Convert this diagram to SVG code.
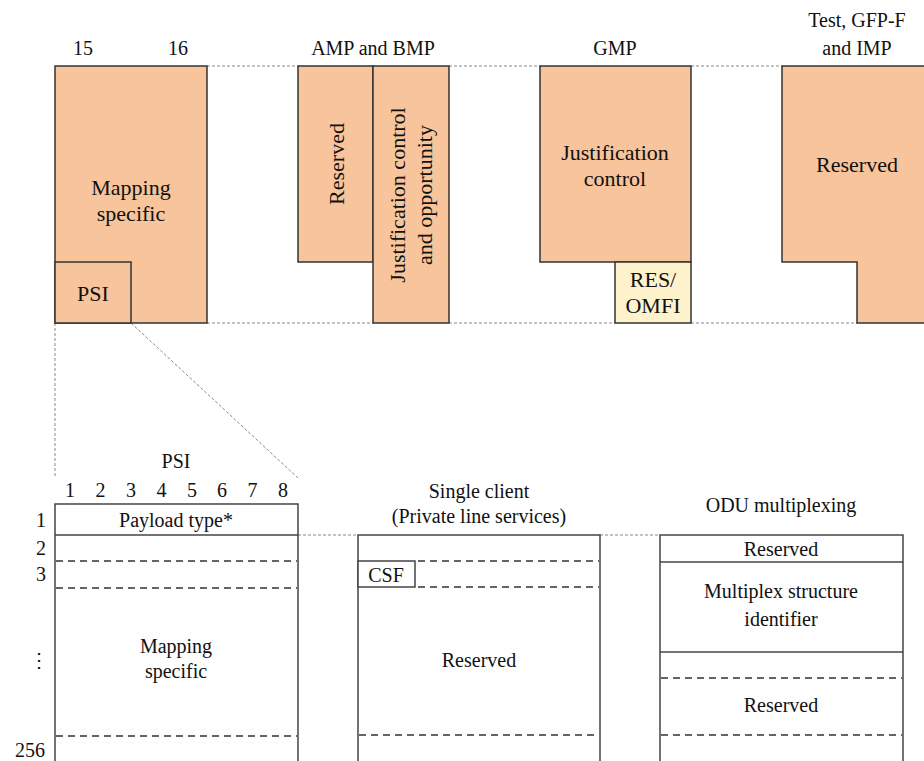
<svg xmlns="http://www.w3.org/2000/svg" width="924" height="761" viewBox="0 0 924 761" font-family="'Liberation Serif', 'Times New Roman', 'DejaVu Serif', serif">
<style>
text{font-family:'Liberation Serif','Times New Roman','DejaVu Serif',serif;fill:#111;}
.t22{font-size:22px;text-anchor:middle;}
.t20{font-size:20px;text-anchor:middle;}
.blk{fill:#f8c49b;stroke:#333;stroke-width:1.5;}
.yel{fill:#fdf2cc;stroke:#333;stroke-width:1.5;}
.wht{fill:#fefefe;stroke:#444;stroke-width:1.5;}
.sep{stroke:#444;stroke-width:1.5;fill:none;}
.dash{stroke:#333;stroke-width:1.3;stroke-dasharray:7,5;fill:none;}
.guide{stroke:#888;stroke-width:1;stroke-dasharray:3,2;fill:none;}
</style>
<rect width="924" height="761" fill="#fff"/>
<g id="connectors">
<line class="guide" x1="207" y1="66" x2="298" y2="66"/>
<line class="guide" x1="449" y1="66" x2="540" y2="66"/>
<line class="guide" x1="691" y1="66" x2="782" y2="66"/>
<line class="guide" x1="207" y1="323" x2="374" y2="323"/>
<line class="guide" x1="449" y1="323" x2="615" y2="323"/>
<line class="guide" x1="691" y1="323" x2="857" y2="323"/>
<line class="guide" x1="55" y1="323" x2="55" y2="478"/>
<line class="guide" x1="131" y1="323" x2="298" y2="478"/>
<line class="guide" x1="298" y1="535" x2="358" y2="535"/>
<line class="guide" x1="600" y1="535" x2="660" y2="535"/>
</g>
<g id="col-1516">
<text class="t20" x="83" y="55">15</text>
<text class="t20" x="178" y="55">16</text>
<rect class="blk" x="55" y="66" width="152" height="257"/>
<text class="t22" x="131" y="195">Mapping</text>
<text class="t22" x="131" y="221">specific</text>
</g>
<g id="psi-top">
<rect class="blk" x="55" y="262" width="76" height="61"/>
<text class="t22" x="93" y="301">PSI</text>
</g>
<g id="amp-bmp">
<text class="t20" x="373" y="55">AMP and BMP</text>
<rect class="blk" x="298" y="66" width="75" height="196"/>
<text class="t22" transform="translate(336,164) rotate(-90)" dominant-baseline="central">Reserved</text>
<rect class="blk" x="373" y="66" width="76" height="257"/>
<text class="t22" transform="translate(397,195) rotate(-90)" dominant-baseline="central">Justification control</text>
<text class="t22" transform="translate(424,195) rotate(-90)" dominant-baseline="central">and opportunity</text>
</g>
<g id="gmp">
<text class="t20" x="615" y="55">GMP</text>
<rect class="blk" x="540" y="66" width="151" height="196"/>
<text class="t22" x="615" y="160">Justification</text>
<text class="t22" x="615" y="186">control</text>
</g>
<g id="res-omfi">
<rect class="yel" x="615" y="262" width="76" height="61"/>
<text class="t22" x="653" y="287">RES/</text>
<text class="t22" x="653" y="313">OMFI</text>
</g>
<g id="test">
<text class="t20" x="857" y="27">Test, GFP-F</text>
<text class="t20" x="857" y="55">and IMP</text>
<path class="blk" d="M930,66 H782 V262 H857 V323 H930"/>
<text class="t22" x="857" y="172">Reserved</text>
</g>
<g id="psi-table">
<text class="t20" x="176" y="468">PSI</text>
<text class="t20" x="70" y="497">1</text>
<text class="t20" x="100.5" y="497">2</text>
<text class="t20" x="131" y="497">3</text>
<text class="t20" x="161.5" y="497">4</text>
<text class="t20" x="192" y="497">5</text>
<text class="t20" x="222" y="497">6</text>
<text class="t20" x="252.5" y="497">7</text>
<text class="t20" x="283" y="497">8</text>
<text class="t20" x="41" y="527">1</text>
<text class="t20" x="41" y="555">2</text>
<text class="t20" x="41" y="581">3</text>
<text class="t20" x="39" y="667">⋮</text>
<text class="t20" x="30" y="757">256</text>
<path class="wht" d="M55,770 V504 H298 V770"/>
<line class="sep" x1="55" y1="535" x2="298" y2="535"/>
<line class="dash" x1="56" y1="561" x2="297" y2="561"/>
<line class="dash" x1="56" y1="588" x2="297" y2="588"/>
<line class="dash" x1="56" y1="736" x2="297" y2="736"/>
<text class="t20" x="176" y="527">Payload type*</text>
<text class="t20" x="176" y="653">Mapping</text>
<text class="t20" x="176" y="678">specific</text>
</g>
<g id="single-client">
<text class="t20" x="479" y="498">Single client</text>
<text class="t20" x="479" y="523">(Private line services)</text>
<path class="wht" d="M358,770 V535 H600 V770"/>
<line class="dash" x1="418" y1="561" x2="599" y2="561"/>
<line class="dash" x1="418" y1="587" x2="599" y2="587"/>
<line class="dash" x1="359" y1="735" x2="599" y2="735"/>
<text class="t20" x="479" y="667">Reserved</text>
</g>
<g id="csf">
<rect class="wht" x="358" y="561" width="57" height="26"/>
<text class="t20" x="386" y="582">CSF</text>
</g>
<g id="odu-mux">
<text class="t20" x="781" y="512">ODU multiplexing</text>
<path class="wht" d="M660,770 V535 H903 V770"/>
<line class="sep" x1="660" y1="562" x2="903" y2="562"/>
<line class="sep" x1="660" y1="652" x2="903" y2="652"/>
<line class="dash" x1="661" y1="678" x2="902" y2="678"/>
<line class="dash" x1="661" y1="735" x2="902" y2="735"/>
<text class="t20" x="781" y="556">Reserved</text>
<text class="t20" x="781" y="598">Multiplex structure</text>
<text class="t20" x="781" y="626">identifier</text>
<text class="t20" x="781" y="712">Reserved</text>
</g>
</svg>
